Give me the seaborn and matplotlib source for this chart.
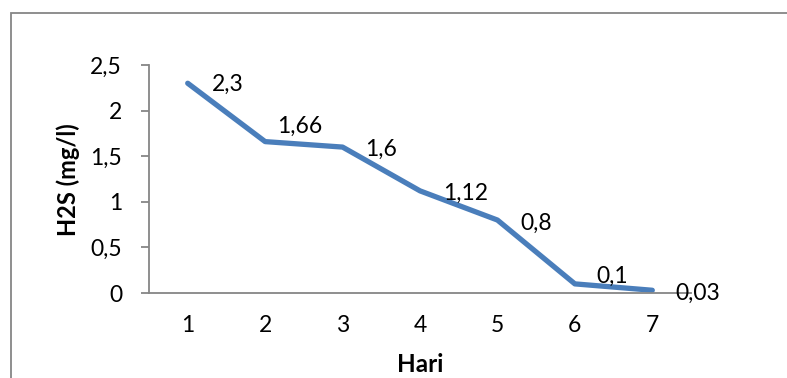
import matplotlib
matplotlib.use("Agg")
import matplotlib.pyplot as plt
from matplotlib.patches import Rectangle
from matplotlib.ticker import FuncFormatter
import seaborn as sns
import pandas as pd

# Daily H2S concentration
hari = [1, 2, 3, 4, 5, 6, 7]
h2s = [2.3, 1.66, 1.6, 1.12, 0.8, 0.1, 0.03]
y_ticks = [0, 0.5, 1, 1.5, 2, 2.5]

# pixel offsets for the value labels (dx right, dy up)
label_offsets = [(24, 0), (12, 17), (23, -1), (23, -1), (23, -2), (22, 9), (23, -2)]

sns.set_theme(style="white")
plt.rcParams["font.family"] = ["Lato", "DejaVu Sans"]

df = pd.DataFrame({"Hari": hari, "H2S": h2s})

W, H, DPI = 787, 378, 100
PT = 72 / DPI
fig = plt.figure(figsize=(W / DPI, H / DPI), dpi=DPI)
ax = fig.add_axes([149 / W, 1 - 293 / H, (691 - 149) / W, (293 - 65) / H])

sns.lineplot(data=df, x="Hari", y="H2S", ax=ax, color="#4A7EBB",
             linewidth=3.8, solid_capstyle="round", solid_joinstyle="round")

ax.set_xlim(0.5, 7.5)
ax.set_ylim(0, 2.5)
ax.set_xticks(hari)
ax.set_yticks(y_ticks)
fmt = FuncFormatter(lambda v, p: f"{v:g}".replace(".", ","))
ax.yaxis.set_major_formatter(fmt)

for s in ["top", "right"]:
    ax.spines[s].set_visible(False)
for s in ["left", "bottom"]:
    ax.spines[s].set_color("#868686")
    ax.spines[s].set_linewidth(1.3)

ax.tick_params(axis="y", length=8 * PT, width=1.3, color="#868686", pad=19 * PT,
               labelsize=16.5, labelcolor="black", left=True)
ax.tick_params(axis="x", length=0, pad=22 * PT, labelsize=16.5, labelcolor="black")

ax.set_xlabel("")
ax.set_ylabel("")
fig.text(68 / W, 1 - 180 / H, "H2S (mg/l)", rotation=90, ha="center", va="center",
         fontsize=17, fontweight="bold", color="black")
fig.text(420 / W, 1 - 364 / H, "Hari", ha="center", va="center",
         fontsize=17.5, fontweight="bold", color="black")

for x, y, (dx, dy) in zip(hari, h2s, label_offsets):
    ax.annotate(f"{y:g}".replace(".", ","), (x, y), xytext=(dx * PT, (dy - 8) * PT),
                textcoords="offset points", ha="left", va="baseline",
                fontsize=16.5, color="black", annotation_clip=False)

# chart area border
fig.patches.append(Rectangle((11 / W, -0.1), 1.2, 1 - 13 / H + 0.1,
                             transform=fig.transFigure, fill=False,
                             edgecolor="#868686", linewidth=1.3))

fig.savefig("out.png", dpi=DPI)
